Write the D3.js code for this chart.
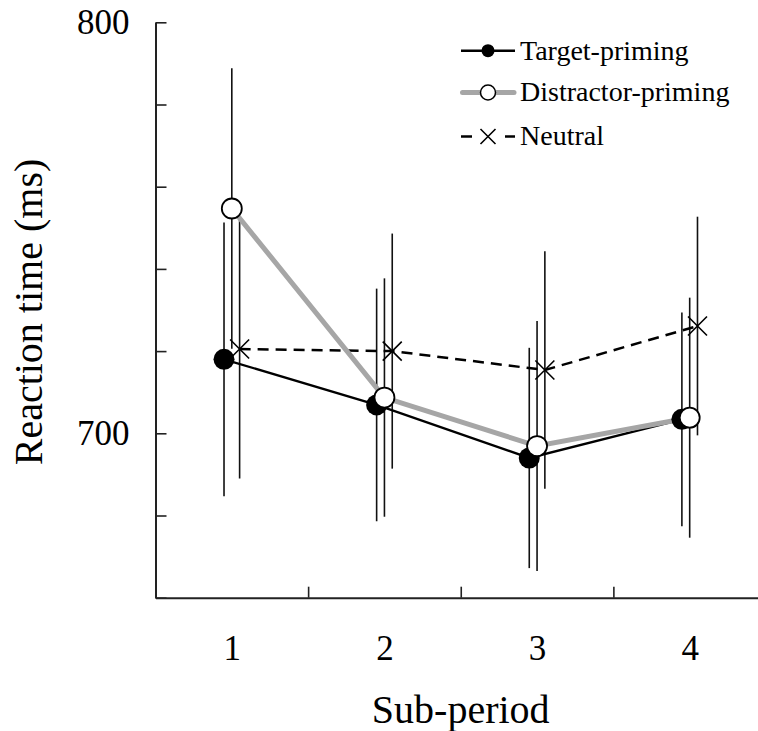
<!DOCTYPE html>
<meta charset="utf-8">
<style>
    body { margin: 0; background: #fff; }
    .axis path, .axis line { stroke: #222; }
    .axis text { fill: #000; }
</style>
<body>
<script src="https://d3js.org/d3.v7.min.js"></script>
<script>

    // data
    var categories = [1, 2, 3, 4];
    var targetMean = [718.0, 706.9, 694.0, 703.4];
    var targetErr = [33.3, 28.3, 26.8, 26.0];
    var distractorMean = [754.7, 708.7, 696.9, 703.8];
    var distractorErr = [34.1, 29.0, 30.4, 29.2];
    var neutralMean = [720.5, 720.0, 715.4, 726.1];
    var neutralErr = [31.5, 28.6, 28.9, 26.6];
    var yTicks = [660, 680, 700, 720, 740, 760, 780, 800];
    var yLabels = [700, 800];

    var width = 758, height = 731;
    var serif = "'Liberation Serif', 'Times New Roman', Times, 'DejaVu Serif', serif";

    var svg = d3.select("body").append("svg")
        .attr("width", width)
        .attr("height", height);

    // x runs past the right edge, as in the original
    var x = d3.scaleLinear().domain([0.5, 4.5]).range([155.5, 766]);
    var y = d3.scaleLinear().domain([660, 800]).range([597.7, 22.3]);

    var series = [
        { name: "Target-priming", mean: targetMean, err: targetErr, off: -7.8 },
        { name: "Distractor-priming", mean: distractorMean, err: distractorErr, off: 0 },
        { name: "Neutral", mean: neutralMean, err: neutralErr, off: 7.8 }
    ];

    function rows(s) {
        return categories.map(function (c, i) {
            return { cx: x(c) + s.off, m: s.mean[i], e: s.err[i] };
        });
    }

    // error bars
    series.forEach(function (s) {
        svg.append("g").selectAll("line")
            .data(rows(s))
            .enter().append("line")
            .attr("x1", function (d) { return d.cx; })
            .attr("x2", function (d) { return d.cx; })
            .attr("y1", function (d) { return y(d.m + d.e); })
            .attr("y2", function (d) { return y(d.m - d.e); })
            .attr("stroke", "#111")
            .attr("stroke-width", 1.6);
    });

    var line = d3.line()
        .x(function (d) { return d.cx; })
        .y(function (d) { return y(d.m); });

    // lines
    svg.append("path").datum(rows(series[2]))
        .attr("d", line).attr("fill", "none")
        .attr("stroke", "#000").attr("stroke-width", 2.5)
        .attr("stroke-dasharray", "11,7");
    svg.append("path").datum(rows(series[0]))
        .attr("d", line).attr("fill", "none")
        .attr("stroke", "#000").attr("stroke-width", 2.3);
    svg.append("path").datum(rows(series[1]))
        .attr("d", line).attr("fill", "none")
        .attr("stroke", "#a6a6a6").attr("stroke-width", 5);

    // markers
    svg.append("g").selectAll("circle")
        .data(rows(series[0]))
        .enter().append("circle")
        .attr("cx", function (d) { return d.cx; })
        .attr("cy", function (d) { return y(d.m); })
        .attr("r", 10.5)
        .attr("fill", "#000");

    svg.append("g").selectAll("circle")
        .data(rows(series[1]))
        .enter().append("circle")
        .attr("cx", function (d) { return d.cx; })
        .attr("cy", function (d) { return y(d.m); })
        .attr("r", 10)
        .attr("fill", "#fff")
        .attr("stroke", "#000")
        .attr("stroke-width", 1.8);

    function cross(sel, size) {
        sel.attr("d", "M" + (-size) + "," + (-size) + "L" + size + "," + size +
            "M" + (-size) + "," + size + "L" + size + "," + (-size))
            .attr("fill", "none")
            .attr("stroke", "#000")
            .attr("stroke-width", 1.6);
    }

    svg.append("g").selectAll("path")
        .data(rows(series[2]))
        .enter().append("path")
        .attr("transform", function (d) { return "translate(" + d.cx + "," + y(d.m) + ")"; })
        .call(cross, 9.5);

    // y axis
    var yAxis = svg.append("g")
        .attr("class", "axis")
        .attr("transform", "translate(155.5,0)")
        .call(d3.axisLeft(y)
            .tickValues(yTicks)
            .tickSizeInner(-11)
            .tickSizeOuter(0)
            .tickPadding(26)
            .tickFormat(function (d) { return yLabels.indexOf(d) >= 0 ? d : ""; }));
    yAxis.attr("font-family", serif);
    yAxis.select(".domain").attr("stroke-width", 2);
    yAxis.selectAll(".tick line").attr("stroke-width", 1.6);
    yAxis.selectAll("text").attr("font-size", "35px").attr("dy", "0.33em");

    // x axis: ticks between categories
    var xAxis = svg.append("g")
        .attr("class", "axis")
        .attr("transform", "translate(0,597.7)")
        .call(d3.axisBottom(x)
            .tickValues([1.5, 2.5, 3.5])
            .tickSizeInner(-11)
            .tickSizeOuter(0)
            .tickFormat(""));
    xAxis.select(".domain").attr("stroke-width", 2);
    xAxis.selectAll(".tick line").attr("stroke-width", 1.6);

    // category labels
    var xLab = svg.append("g")
        .attr("class", "axis")
        .attr("transform", "translate(0,597.7)")
        .call(d3.axisBottom(x)
            .tickValues(categories)
            .tickSize(0)
            .tickPadding(37)
            .tickFormat(d3.format("d")));
    xLab.attr("font-family", serif);
    xLab.select(".domain").remove();
    xLab.selectAll("text").attr("font-size", "35px").attr("dy", "0.71em");

    // axis titles
    svg.append("text")
        .attr("x", x(2.5))
        .attr("y", 723)
        .attr("text-anchor", "middle")
        .attr("font-family", serif)
        .attr("font-size", "40px")
        .text("Sub-period");

    svg.append("text")
        .attr("transform", "translate(41.5,312) rotate(-90)")
        .attr("text-anchor", "middle")
        .attr("font-family", serif)
        .attr("font-size", "40px")
        .text("Reaction time (ms)");

    // legend
    var legend = svg.append("g").attr("transform", "translate(461,0)");
    var rowY = [50.7, 92.5, 136.5];

    legend.append("line").attr("x1", 0).attr("x2", 54).attr("y1", rowY[0]).attr("y2", rowY[0])
        .attr("stroke", "#000").attr("stroke-width", 2.5);
    legend.append("circle").attr("cx", 27).attr("cy", rowY[0]).attr("r", 6.5).attr("fill", "#000");

    legend.append("line").attr("x1", 1.5).attr("x2", 53).attr("y1", rowY[1]).attr("y2", rowY[1])
        .attr("stroke", "#a6a6a6").attr("stroke-width", 5).attr("stroke-linecap", "round");
    legend.append("circle").attr("cx", 27).attr("cy", rowY[1]).attr("r", 7.5)
        .attr("fill", "#fff").attr("stroke", "#000").attr("stroke-width", 1.5);

    legend.append("line").attr("x1", 0).attr("x2", 11).attr("y1", rowY[2]).attr("y2", rowY[2])
        .attr("stroke", "#000").attr("stroke-width", 2.5);
    legend.append("line").attr("x1", 44).attr("x2", 54).attr("y1", rowY[2]).attr("y2", rowY[2])
        .attr("stroke", "#000").attr("stroke-width", 2.5);
    legend.append("path").attr("transform", "translate(27," + rowY[2] + ")").call(cross, 7.5);

    legend.selectAll("text.lab")
        .data(series)
        .enter().append("text")
        .attr("class", "lab")
        .attr("x", 59)
        .attr("y", function (d, i) { return rowY[i] + 8.8; })
        .attr("font-family", serif)
        .attr("font-size", "28px")
        .text(function (d) { return d.name; });

</script>
</body>
